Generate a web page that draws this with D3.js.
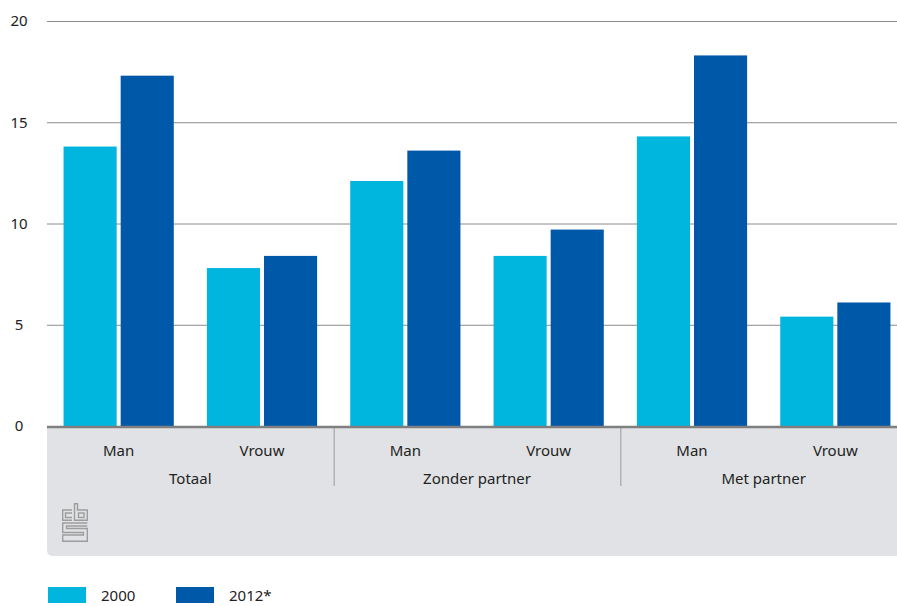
<!DOCTYPE html>
<html><head><meta charset="utf-8">
<script src="https://cdn.jsdelivr.net/npm/d3@7"></script>
<style>body{margin:0;background:#fff;} svg{display:block;font-family:"Noto Sans",sans-serif;}</style>
</head><body>
<svg id="c" width="897" height="606"></svg>
<script>
const groups = ["Totaal","Zonder partner","Met partner"];
const sexes = ["Man","Vrouw"];
const seriesNames = ["2000","2012*"];
const values2000 = [13.8, 7.8, 12.1, 8.4, 14.3, 5.4];
const values2012 = [17.3, 8.4, 13.6, 9.7, 18.3, 6.1];
const yTicks = [0,5,10,15,20];
const colors = ["#00b6de","#0058a8"];

const svg = d3.select("#c");
const x0 = 47, x1 = 907, yTop = 21, yBot = 426;
const cats = [];
groups.forEach(g => sexes.forEach(s => cats.push(g + "|" + s)));
const data = cats.map((c,i) => ({cat:c, vals:[values2000[i], values2012[i]]}));

const x = d3.scaleBand().domain(cats).range([x0, x1]).padding(0);
const xs = d3.scaleBand().domain(seriesNames).range([0, x.bandwidth()]).paddingInner(0.07).paddingOuter(0.29);
const y = d3.scaleLinear().domain([0,20]).range([yBot, yTop]);

// grey panel
const panelTop = yBot, panelBot = 556, r = 6;
svg.append("path")
  .attr("d", `M${x0},${panelTop} H${x1} V${panelBot} H${x0+r} Q${x0},${panelBot} ${x0},${panelBot-r} Z`)
  .attr("fill","#e1e2e5");

// gridlines
svg.append("g").selectAll("line").data(yTicks.filter(t=>t>0)).join("line")
  .attr("x1", x0).attr("x2", x1).attr("y1", d=>y(d)+0.5).attr("y2", d=>y(d)+0.5)
  .attr("stroke","#8c8c8c").attr("stroke-width",1);

// y labels
svg.append("g").selectAll("text").data(yTicks).join("text")
  .attr("x", 19).attr("y", d=>y(d)).attr("dy","0.35em")
  .attr("text-anchor","middle").attr("font-size",15).attr("fill","#222")
  .text(d=>d);

// bars
const g = svg.append("g").selectAll("g").data(data).join("g")
  .attr("transform", d=>`translate(${x(d.cat)},0)`);
g.selectAll("rect").data(d=>d.vals.map((v,i)=>({v, s:seriesNames[i], i}))).join("rect")
  .attr("x", d=>xs(d.s)).attr("width", xs.bandwidth())
  .attr("y", d=>y(d.v)).attr("height", d=>y(0)-y(d.v))
  .attr("fill", d=>colors[d.i]);

// axis line
svg.append("line").attr("x1",x0).attr("x2",x1).attr("y1",yBot+1).attr("y2",yBot+1)
  .attr("stroke","#7f7f7f").attr("stroke-width",2.5);

// sub labels
svg.append("g").selectAll("text").data(cats).join("text")
  .attr("x", d=>x(d)+x.bandwidth()/2).attr("y", 456)
  .attr("text-anchor","middle").attr("font-size",15).attr("fill","#222")
  .text(d=>d.split("|")[1]);

// group labels
svg.append("g").selectAll("text").data(groups).join("text")
  .attr("x", gname => x(gname+"|Man") + x.bandwidth())
  .attr("y", 484).attr("text-anchor","middle").attr("font-size",15).attr("fill","#222")
  .text(d=>d);

// separators
svg.append("g").selectAll("line").data(groups.slice(1)).join("line")
  .attr("x1", gname=>x(gname+"|Man")+0.5).attr("x2", gname=>x(gname+"|Man")+0.5)
  .attr("y1", 428).attr("y2", 486).attr("stroke","#9a9a9a").attr("stroke-width",1);

// cbs logo
const logo = svg.append("g").attr("transform","translate(62,503)")
  .attr("fill","none").attr("stroke","#9d9d9d").attr("stroke-width",1.4);
logo.append("path").attr("d","M10,7 H0.7 V17.3 H10 M10,10 H3.5 V14.5 H10");
logo.append("path").attr("d","M12.5,0.7 V17.3 H25.3 V7 H15.5 V0.7 Z");
logo.append("rect").attr("x",16.5).attr("y",10).attr("width",5.5).attr("height",4.5);
logo.append("path").attr("d","M25.3,20 H0.7 V29.5 H21.5 V32 H0.7 V38.3 H25.3 V25.5 H4.5 V23 H25.3");

// legend
const leg = svg.append("g").selectAll("g").data(seriesNames).join("g")
  .attr("transform",(d,i)=>`translate(${48+i*128},587)`);
leg.append("rect").attr("width",38).attr("height",16).attr("fill",(d,i)=>colors[i]);
leg.append("text").attr("x",53).attr("y",8).attr("dy","0.38em")
  .attr("font-size",15).attr("fill","#222").text(d=>d);
</script>
</body></html>
